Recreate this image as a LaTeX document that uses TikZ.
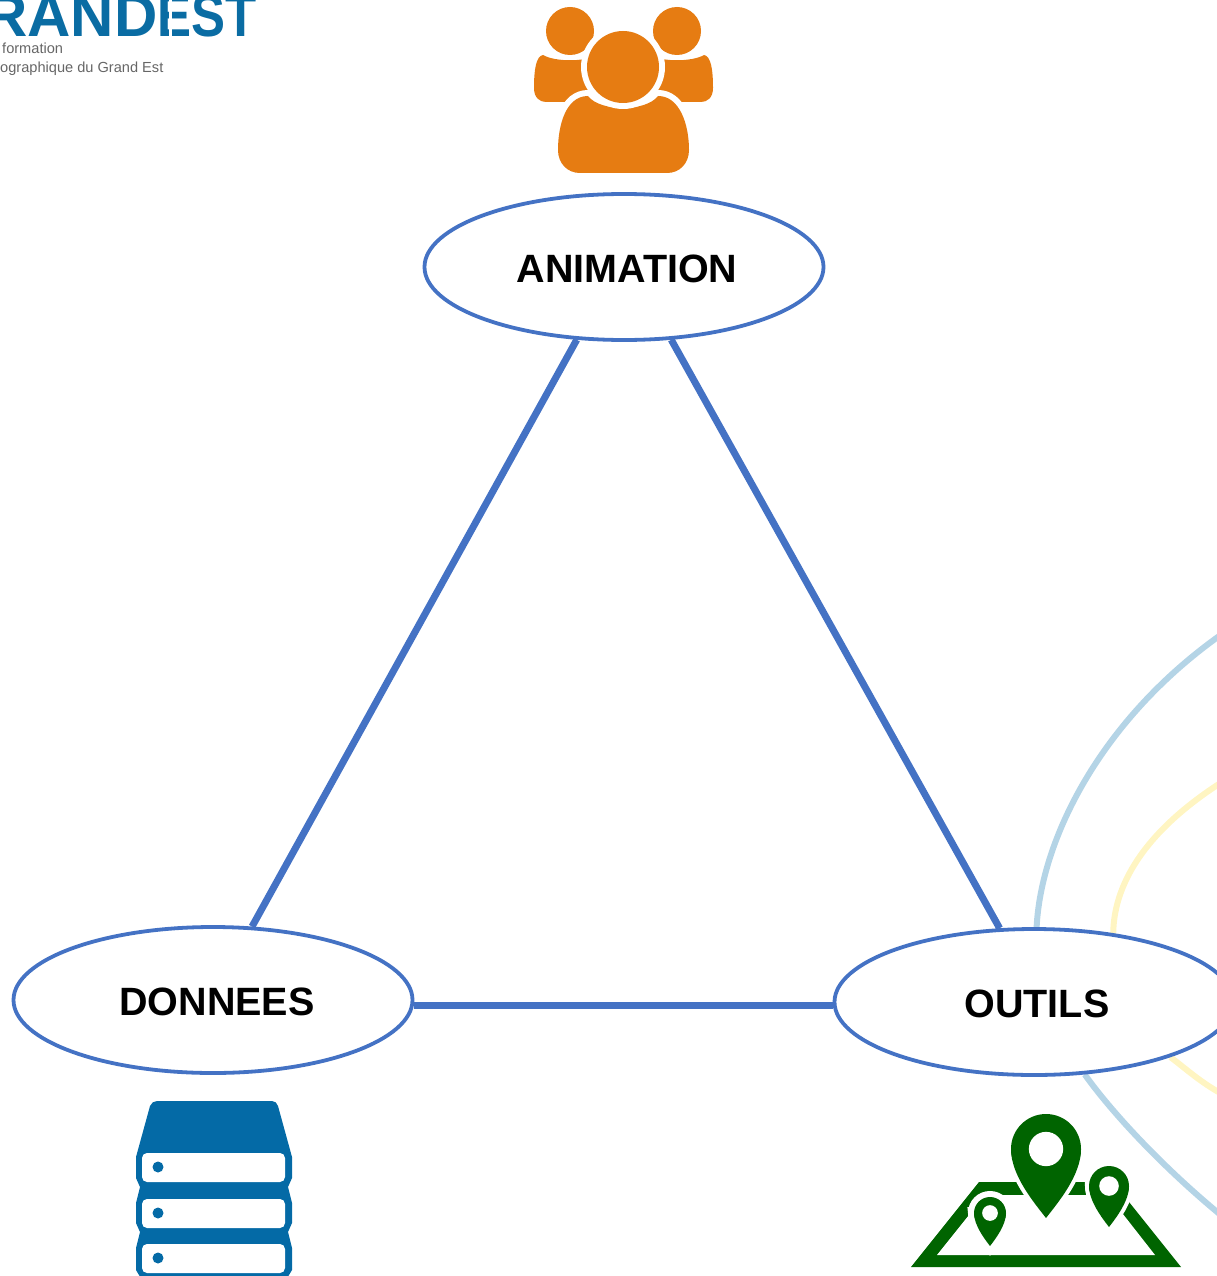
\documentclass[tikz,border=0pt]{standalone}
\usepackage{tikz}
\usepackage{xcolor}
\usepackage{graphicx}
\usepackage{fontspec}
\setmainfont{Liberation Sans}
\usetikzlibrary{shapes.geometric,backgrounds}
\definecolor{poleblue}{HTML}{4472C4}
\definecolor{logoblue}{HTML}{0A6CA3}
\definecolor{logogrey}{HTML}{666666}
\definecolor{curveblue}{HTML}{B4D4E6}
\definecolor{curveyellow}{HTML}{FFF5C2}
\definecolor{peopleorange}{HTML}{E67C12}
\definecolor{serverblue}{HTML}{046AA6}
\definecolor{mapgreen}{HTML}{006400}
\tikzset{
	pole/.style={draw=poleblue,line width=3.8pt,fill=white,ellipse,inner sep=0pt,minimum width=399pt,minimum height=146pt,font=\fontsize{39.5}{39.5}\selectfont\bfseries},
	polelink/.style={draw=poleblue,line width=7pt},
	softcurve/.style={line width=6pt},
	logotitle/.style={anchor=base west,inner sep=0pt,text=logoblue,font=\fontsize{60}{60}\selectfont\bfseries},
	logotext/.style={anchor=base west,inner sep=0pt,text=logogrey,font=\fontsize{14.6}{14.6}\selectfont}
}
\newcommand{\poletext}[2]{\hspace*{#1}\raisebox{-1pt}[28pt][0pt]{#2}}
\newcommand{\pinpath}[4]{(#1-#3,#2) .. controls (#1-#3,#2+#3*0.75) and (#1-#3*0.35,#4-#3*0.45) .. (#1,#4) .. controls (#1+#3*0.35,#4-#3*0.45) and (#1+#3,#2+#3*0.75) .. (#1+#3,#2) -- cycle}
\newcommand{\mappin}[5]{
	\draw[white,line width=#5] \pinpath{#1}{#2}{#3}{#4};
	\draw[white,line width=#5] (#1,#2) circle[radius=#3];
	\fill[mapgreen] \pinpath{#1}{#2}{#3}{#4};
	\fill[mapgreen] (#1,#2) circle[radius=#3];
	\fill[white] (#1,#2) circle[radius=#3*0.49];
}
\begin{document}
\begin{tikzpicture}[x=1pt,y=-1pt]
	\useasboundingbox (0,0) rectangle (1217,1276);
	\clip (0,0) rectangle (1217,1276);

	\node[logotitle] (logoleft) at (-16,36.5) {RAND};
	\node[logotitle] (logoright) at (157,36.5) {\scalebox{0.85}[1]{EST}};
	\fill[white] (169,0) rectangle (172,40);
	\node[logotext] (logoline) at (2,54) {formation};
	\node[logotext] (logolinetwo) at (0,72.5) {ographique du Grand Est};

	\node[pole] (animation) at (624,267) {\poletext{6pt}{ANIMATION}};
	\node[pole] (donnees) at (213,1000) {\poletext{8pt}{DONNEES}};
	\node[pole] (outils) at (1034,1002) {\poletext{6pt}{OUTILS}};

	\coordinate (blueup) at (1222,634);
	\coordinate (yellowup) at (1222,782);
	\coordinate (yellowdown) at (1222,1094);
	\coordinate (bluedown) at (1222,1216);

	\begin{pgfonlayer}{background}
		\draw[polelink] (animation.237) -- (donnees.62);
		\draw[polelink] (animation.303) -- (outils.115);
		\draw[polelink] (outils.181) -- (outils.181 -| donnees.east);
		\draw[curveblue,softcurve] (outils.88) .. controls (1041,840) and (1100,720) .. (blueup);
		\draw[curveyellow,softcurve] (outils.41) .. controls (1114,880) and (1150,828) .. (yellowup);
		\draw[curveyellow,softcurve] (outils.-22) .. controls (1185,1068) and (1200,1082) .. (yellowdown);
		\draw[curveblue,softcurve] (outils.-55) .. controls (1110,1110) and (1160,1165) .. (bluedown);
	\end{pgfonlayer}

	\foreach \sx in {570,677}{
		\fill[peopleorange] (\sx-36,88) .. controls (\sx-36,70) and (\sx-34,56) .. (\sx-27,55) .. controls (\sx-15,62) and (\sx+15,62) .. (\sx+27,55) .. controls (\sx+34,56) and (\sx+36,70) .. (\sx+36,88) .. controls (\sx+36,98) and (\sx+30,102) .. (\sx+24,102) -- (\sx-24,102) .. controls (\sx-30,102) and (\sx-36,98) .. (\sx-36,88) -- cycle;
		\fill[white] (\sx,31) circle[radius=29];
		\fill[peopleorange] (\sx,31) circle[radius=24];
	}
	\draw[white,line width=12pt] (558,150) .. controls (558,125) and (566,96) .. (588,96) .. controls (600,104) and (646,104) .. (658,96) .. controls (680,96) and (689,125) .. (689,150) -- (689,173) -- (558,173) -- cycle;
	\fill[peopleorange] (558,150) .. controls (558,125) and (566,96) .. (588,96) .. controls (600,112) and (646,112) .. (658,96) .. controls (680,96) and (689,125) .. (689,150) .. controls (689,163) and (680,173) .. (667,173) -- (580,173) .. controls (567,173) and (558,163) .. (558,150) -- cycle;
	\fill[white] (623,67) circle[radius=42];
	\fill[peopleorange] (623,67) circle[radius=36];

	\fill[serverblue] (157,1101) -- (272,1101) .. controls (275,1101) and (277,1103) .. (278,1106) -- (292,1157) -- (292,1178) -- (288,1187) -- (292,1203) -- (292,1223) -- (288,1232) -- (292,1248) -- (292,1270) -- (286,1280) -- (142,1280) -- (136,1270) -- (136,1248) -- (140,1232) -- (136,1223) -- (136,1203) -- (140,1187) -- (136,1178) -- (136,1157) -- (150,1106) .. controls (151,1103) and (154,1101) .. (157,1101) -- cycle;
	\foreach \sy in {1153,1199,1244}{
		\fill[white,rounded corners=5pt] (142,\sy) rectangle (285,\sy+29);
		\fill[serverblue] (158,\sy+14) circle[radius=5.5];
	}

	\fill[mapgreen] (979,1182) -- (1113,1182) -- (1181,1267) -- (911,1267) -- cycle;
	\fill[white] (985,1195) -- (1108,1195) -- (1155,1255) -- (937,1255) -- cycle;
	\mappin{990}{1213}{16}{1246}{12pt}
	\mappin{1046}{1149}{35}{1218}{8pt}
	\mappin{1109}{1186}{20}{1227}{8pt}
\end{tikzpicture}
\end{document}
